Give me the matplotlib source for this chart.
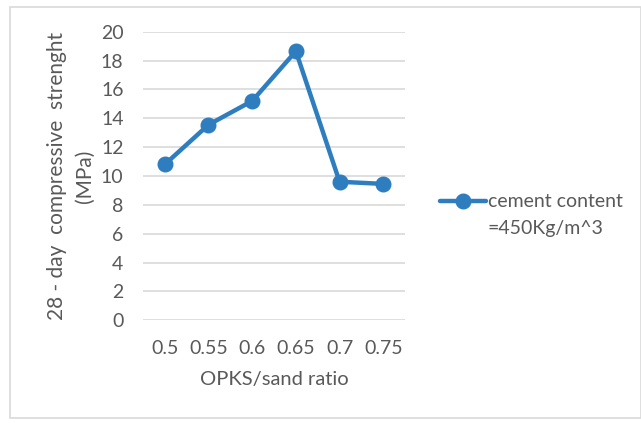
import matplotlib
matplotlib.use("Agg")
import matplotlib.pyplot as plt
from matplotlib.patches import Rectangle

categories = ["0.5", "0.55", "0.6", "0.65", "0.7", "0.75"]
values = [10.8, 13.55, 15.2, 18.65, 9.6, 9.45]
yticks = [0, 2, 4, 6, 8, 10, 12, 14, 16, 18, 20]
series_label_line1 = "cement content"
series_label_line2 = "=450Kg/m^3"

plt.rcParams['font.family'] = ['Lato', 'DejaVu Sans']
gray = '#595959'
blue = '#2E7EBF'

fig = plt.figure(figsize=(6.41, 4.23), dpi=100)
fig.patches.append(Rectangle((0.016, 0.012), 0.984, 0.972, transform=fig.transFigure,
                             fill=False, edgecolor='#D9D9D9', linewidth=1.2))
ax = fig.add_axes([0.223, 0.243, 0.409, 0.682])
x = list(range(len(categories)))
ax.plot(x, values, color=blue, linewidth=3.2, marker='o', markersize=10.5,
        label=series_label_line1, solid_capstyle='round')
ax.set_xlim(-0.5, len(categories) - 0.5)
ax.set_ylim(0, 20)
ax.set_yticks(yticks)
ax.set_xticks(x)
ax.set_xticklabels(categories)
ax.grid(axis='y', color='#D9D9D9', linewidth=1.2)
ax.set_axisbelow(True)
for s in ax.spines.values():
    s.set_visible(False)
ax.tick_params(length=0, colors=gray, labelsize=14)
ax.tick_params(axis='x', pad=14)
ax.tick_params(axis='y', pad=14)
ax.set_xlabel("OPKS/sand ratio", color=gray, fontsize=14.5, labelpad=10)
ax.set_ylabel("28 - day  compressive  strenght\n(MPa)", color=gray, fontsize=15,
              labelpad=4, linespacing=1.55)
leg = ax.legend(loc='center left', bbox_to_anchor=(1.133, 0.41), frameon=False,
                fontsize=14, handlelength=2.35, handletextpad=0.1, labelcolor=gray,
                borderpad=0, borderaxespad=0)
fig.canvas.draw()
bb = leg.get_texts()[0].get_window_extent()
fig.text(bb.x0 / fig.bbox.width, (bb.y0 - 27) / fig.bbox.height, series_label_line2,
         color=gray, fontsize=14, va='bottom', ha='left')
fig.savefig("out.png", dpi=100)
